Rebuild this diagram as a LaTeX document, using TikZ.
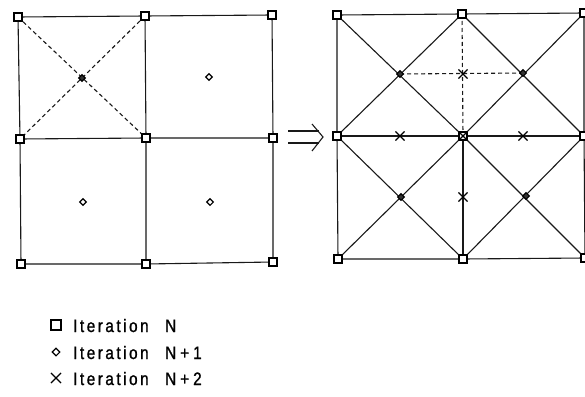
\documentclass[tikz,border=0pt]{standalone}
\usepackage{fontspec}
\setmainfont{Liberation Sans}
\newfontfamily\legfont{Liberation Sans}[FakeStretch=0.85,LetterSpace=14,FakeBold=1.2]
\usetikzlibrary{shapes.geometric,shapes.misc}
\begin{document}
\begin{tikzpicture}[x=1pt,y=-1pt,
  ln/.style={line width=1.1pt,black!90},
  dsh/.style={ln,dash pattern=on 4pt off 3pt},
  sqm/.style={draw,line width=1.1pt,rectangle,minimum size=8pt,inner sep=0pt,fill=white},
  dim/.style={draw,line width=1.1pt,diamond,minimum size=7pt,inner sep=0pt,fill=white},
  dimf/.style={draw,line width=1.1pt,diamond,minimum size=7pt,inner sep=0pt,fill=black!80},
  crm/.style={draw,line width=1.1pt,cross out,minimum size=8pt,inner sep=0pt},
  lab/.style={anchor=base west,inner sep=0pt,font=\legfont\fontsize{18}{20}\selectfont}
]
\useasboundingbox (0,0) rectangle (585,396);
% left grid coordinates
\coordinate (LTL) at (18,17);  \coordinate (LTM) at (145,16);  \coordinate (LTR) at (272,15);
\coordinate (LML) at (20,139); \coordinate (LMM) at (146,138); \coordinate (LMR) at (273,138);
\coordinate (LBL) at (21,264); \coordinate (LBM) at (146,264); \coordinate (LBR) at (273,262);
\coordinate (LD1) at (82,78);  \coordinate (LD2) at (209,77);
\coordinate (LD3) at (83,202); \coordinate (LD4) at (210,202);
% right grid coordinates
\coordinate (RTL) at (337,15);  \coordinate (RTM) at (462,14);  \coordinate (RTR) at (584,13);
\coordinate (RML) at (337,136); \coordinate (RMM) at (463,136); \coordinate (RMR) at (584,136);
\coordinate (RBL) at (338,259); \coordinate (RBM) at (463,259); \coordinate (RBR) at (585,258);
\coordinate (RD1) at (400,74);  \coordinate (RD2) at (523,73);
\coordinate (RD3) at (401,197); \coordinate (RD4) at (526,196);
\coordinate (RX1) at (400,136); \coordinate (RX2) at (523,136);
\coordinate (RX3) at (463,74);  \coordinate (RX4) at (463,197);
% left grid lines
\draw[ln] (LTL) -- (LTM) -- (LTR) -- (LMR) -- (LBR) -- (LBM) -- (LBL) -- (LML) -- cycle;
\draw[ln] (LML) -- (LMM) -- (LMR);
\draw[ln] (LTM) -- (LMM) -- (LBM);
\draw[dsh] (LTL) -- (LMM);
\draw[dsh] (LTM) -- (LML);
% right grid lines
\draw[ln] (RTL) -- (RTM) -- (RTR) -- (RMR) -- (RBR) -- (RBM) -- (RBL) -- (RML) -- cycle;
\draw[ln] (RML) -- (RMM) -- (RMR);
\draw[ln] (RMM) -- (RBM);
\draw[dsh] (RTM) -- (RMM);
\draw[dsh] (RD1) -- (RD2);
\draw[ln] (RTL) -- (RMM) -- (RTR);
\draw[ln] (RML) -- (RTM) -- (RMR);
\draw[ln] (RBL) -- (RMM) -- (RBR);
\draw[ln] (RML) -- (RBM) -- (RMR);
% arrow
\coordinate (A1) at (288,131); \coordinate (A2) at (319,131);
\coordinate (A3) at (288,143); \coordinate (A4) at (319,143);
\coordinate (AT) at (323,137);
\coordinate (AU) at (312,124); \coordinate (AD) at (312,151);
\draw[ln] (A1) -- (A2);
\draw[ln] (A3) -- (A4);
\draw[ln] (AU) .. controls (318,130) .. (AT) .. controls (318,144) .. (AD);
% markers left
\foreach \p in {LTL,LTM,LTR,LML,LMM,LMR,LBL,LBM,LBR} \node[sqm] (m\p) at (\p) {};
\node[dimf] (mLD1) at (LD1) {};
\foreach \p in {LD2,LD3,LD4} \node[dim] (m\p) at (\p) {};
% markers right
\foreach \p in {RTL,RTM,RTR,RML,RMM,RMR,RBL,RBM,RBR} \node[sqm] (m\p) at (\p) {};
\foreach \p in {RD1,RD2,RD3,RD4} \node[dimf] (m\p) at (\p) {};
\foreach \p in {RX1,RX2,RX3,RX4} \node[crm] (m\p) at (\p) {};
\node[crm] (mRMMx) at (RMM) {};
% legend
\node[sqm,minimum size=10pt] (g1) at (56,325) {};
\node[dim,minimum size=8pt] (g2) at (56,352) {};
\node[crm,minimum size=9pt] (g3) at (56,378) {};
\node[lab] (t1) at (73,332) {Iteration};
\node[lab] (t2) at (73,359) {Iteration};
\node[lab] (t3) at (73,385) {Iteration};
\node[lab] (n1) at (165,332) {N};
\node[lab] (n2) at (165,359) {N\hspace{4pt}+\hspace{4pt}1};
\node[lab] (n3) at (165,385) {N\hspace{4pt}+\hspace{4pt}2};
\end{tikzpicture}
\end{document}
